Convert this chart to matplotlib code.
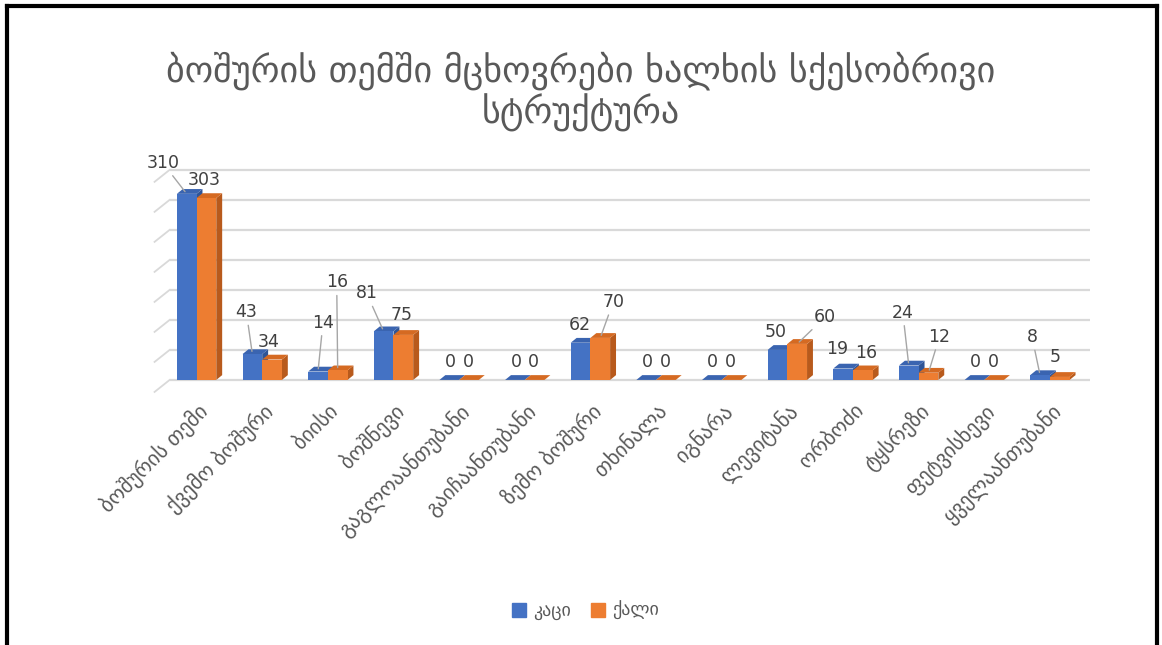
import matplotlib.pyplot as plt
from matplotlib.patches import Polygon
import numpy as np

# =========================
# DATA
# =========================
title = "ბოშურის თემში მცხოვრები ხალხის სქესობრივი\nსტრუქტურა"
categories = ["ბოშურის თემი", "ქვემო ბოშური", "ბიისი", "ბოშნევი",
              "გაგლოაანთუბანი", "გაიჩაანთუბანი", "ზემო ბოშური", "თხინალა",
              "იგნარა", "ლევიტანა", "ორბოძი", "ტყსრეზი", "ფეტვისხევი",
              "ყველაანთუბანი"]
men = [310, 43, 14, 81, 0, 0, 62, 0, 0, 50, 19, 24, 0, 8]
women = [303, 34, 16, 75, 0, 0, 70, 0, 0, 60, 16, 12, 0, 5]
series_names = ["კაცი", "ქალი"]

# --- label offsets (pixels from bar top) and whether a leader line is drawn ---
men_off = [(-24, 31, True), (-6, 42, True), (5, 49, True), (-17, 38, True),
           (1, 18, False), (1, 18, False), (-1, 18, False), (1, 18, False),
           (1, 18, False), (-2, 18, False), (-6, 20, False), (-6, 53, True),
           (1, 18, False), (-8, 38, True)]
women_off = [(-2, 18, False), (-3, 18, False), (-1, 88, True), (-2, 20, False),
             (-1, 18, False), (-1, 18, False), (13, 36, True), (-1, 18, False),
             (-1, 18, False), (28, 27, True), (3, 17, False), (11, 36, True),
             (-1, 18, False), (-5, 20, False)]

blue, blue_side, blue_top = '#4472C4', '#2F5597', '#3A64B0'
orange, orange_side, orange_top = '#ED7D31', '#B85A1C', '#D56A22'
grid_c = '#D9D9D9'
txt_c = '#404040'
lab_c = '#595959'
geo_font = ['DejaVu Sans']
num_font = ['Liberation Sans Narrow', 'DejaVu Sans']

bw = 0.3       # bar width
ddx = 0.09     # 3D depth in x units
ddy = 8        # 3D depth in y units

# =========================
# PLOT
# =========================
fig = plt.figure(figsize=(11.62, 6.45), dpi=100)
ax = fig.add_axes([0.146, 0.397, 0.792, 0.349])
ax.set_xlim(-0.41, 13.61)
ax.set_ylim(-15, 360)

x = np.arange(len(categories))

# gridlines + slanted wall edges
for g in range(0, 351, 50):
    ax.plot([-0.41, 13.61], [g, g], color=grid_c, lw=1.6, zorder=0)
    ax.plot([-0.64, -0.41], [g - 20, g], color=grid_c, lw=1.3, zorder=0,
            clip_on=False)


def bar3d(xc, v, front, side, top):
    x0, x1 = xc - bw / 2, xc + bw / 2
    ax.add_patch(Polygon([(x1, 0), (x1 + ddx, ddy), (x1 + ddx, v + ddy), (x1, v)],
                         closed=True, facecolor=side, edgecolor='none', zorder=2))
    ax.add_patch(Polygon([(x0, v), (x1, v), (x1 + ddx, v + ddy), (x0 + ddx, v + ddy)],
                         closed=True, facecolor=top, edgecolor='none', zorder=2))
    ax.add_patch(Polygon([(x0, 0), (x1, 0), (x1, v), (x0, v)],
                         closed=True, facecolor=front, edgecolor='none', zorder=2))


for i in x:
    bar3d(i - bw / 2, men[i], blue, blue_side, blue_top)
    bar3d(i + bw / 2, women[i], orange, orange_side, orange_top)


def label(xc, v, off):
    dx, dy, leader = off
    kw = dict(xy=(xc, v), xytext=(dx, dy), textcoords='offset pixels',
              ha='center', va='center', fontsize=12.5, color=txt_c,
              family=num_font, zorder=5)
    if leader:
        kw['arrowprops'] = dict(arrowstyle='-', color='#A6A6A6', lw=1,
                                shrinkA=1, shrinkB=2)
    ax.annotate(str(v), **kw)


for i in x:
    label(i - bw / 2, men[i], men_off[i])
    label(i + bw / 2, women[i], women_off[i])

# axes styling
for s in ax.spines.values():
    s.set_visible(False)
ax.set_yticks([])
ax.set_xticks(x)
ax.set_xticklabels(categories, rotation=45, ha='right', va='top',
                   rotation_mode='anchor', fontsize=15, color=lab_c,
                   family=geo_font)
ax.tick_params(axis='x', length=0, pad=8)

fig.text(0.5, 0.858, title, ha='center', va='center', fontsize=26,
         color=lab_c, family=geo_font, linespacing=1.1)

# legend
h1 = plt.Line2D([], [], marker='s', ls='none', color=blue, markersize=10)
h2 = plt.Line2D([], [], marker='s', ls='none', color=orange, markersize=10)
fig.legend([h1, h2], series_names, loc='center', bbox_to_anchor=(0.503, 0.053),
           ncol=2, frameon=False, prop={'family': geo_font, 'size': 13},
           handletextpad=0.3, columnspacing=1.0, handlelength=1.0,
           labelcolor=lab_c)

# black frame
fig.add_artist(plt.Line2D([0.006, 0.006], [0, 0.99], color='black', lw=3,
                          transform=fig.transFigure))
fig.add_artist(plt.Line2D([0.006, 0.996], [0.99, 0.99], color='black', lw=3,
                          transform=fig.transFigure))
fig.add_artist(plt.Line2D([0.996, 0.996], [0, 0.99], color='black', lw=3,
                          transform=fig.transFigure))

fig.savefig('out.png', dpi=100)
